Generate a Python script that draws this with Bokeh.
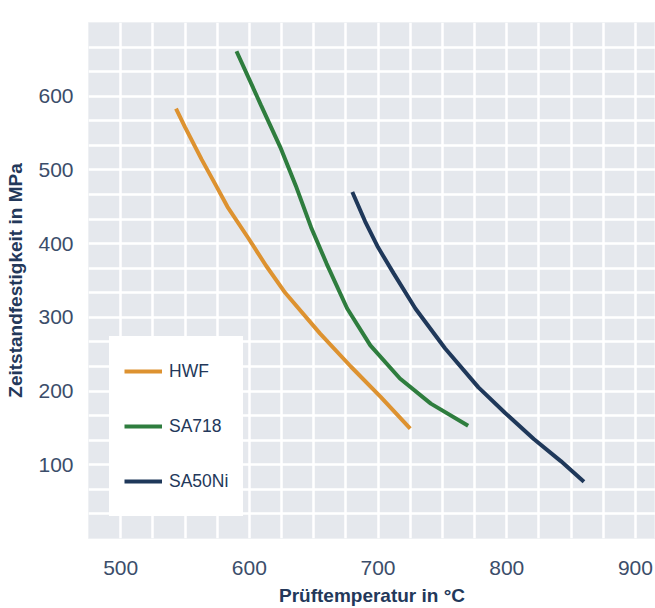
from bokeh.plotting import figure
from bokeh.models import FixedTicker, Legend, LegendItem, Range1d
from bokeh.embed import file_html
from bokeh.resources import INLINE

# ---- data ----
hwf_t = [543, 550, 563, 574, 583, 599, 613, 628, 655, 679, 702, 725]
hwf_s = [583, 558, 514, 479, 450, 408, 370, 333, 278, 233, 192, 149]

sa718_t = [590, 609, 624, 636, 648, 660, 676, 694, 717, 741, 770]
sa718_s = [661, 588, 531, 479, 422, 373, 312, 262, 217, 183, 153]

sa50ni_t = [680, 690, 700, 712, 729, 752, 778, 799, 821, 842, 860]
sa50ni_s = [470, 430, 395, 360, 312, 258, 205, 170, 135, 105, 77]

x_ticks = [500, 600, 700, 800, 900]
y_ticks = [100, 200, 300, 400, 500, 600]
x_grid = [475 + 25 * i for i in range(19)]
y_grid = [100 * i / 3 for i in range(22)]

series_names = ["HWF", "SA718", "SA50Ni"]
colors = ["#dd9230", "#2e7d3e", "#1f385a"]

navy = "#23385a"
tick_col = "#3b4d6a"

p = figure(width=655, height=608, output_backend="svg", toolbar_location=None,
           x_range=Range1d(475, 915.6), y_range=Range1d(0, 700),
           min_border_left=88, min_border_right=0, min_border_top=22,
           min_border_bottom=70)

p.background_fill_color = "#e5e8ed"
p.border_fill_color = "white"
p.outline_line_color = "#eef0f3"
p.outline_line_width = 1

p.xgrid.ticker = FixedTicker(ticks=x_grid)
p.ygrid.ticker = FixedTicker(ticks=y_grid)
for g in (p.xgrid, p.ygrid):
    g.grid_line_color = "white"
    g.grid_line_width = 2.5
    g.grid_line_alpha = 1

p.xaxis.ticker = FixedTicker(ticks=x_ticks)
p.yaxis.ticker = FixedTicker(ticks=y_ticks)

for ax in (p.xaxis, p.yaxis):
    ax.axis_line_color = None
    ax.major_tick_line_color = None
    ax.minor_tick_line_color = None
    ax.major_tick_out = 0
    ax.major_tick_in = 0
    ax.major_label_text_font = "Liberation Sans"
    ax.major_label_text_font_size = "21px"
    ax.major_label_text_color = tick_col
    ax.axis_label_text_font = "Liberation Sans"
    ax.axis_label_text_font_style = "bold"
    ax.axis_label_text_font_size = "19px"
    ax.axis_label_text_color = navy

p.xaxis.axis_label = "Prüftemperatur in °C"
p.yaxis.axis_label = "Zeitstandfestigkeit in MPa"
p.xaxis.major_label_standoff = 22
p.xaxis.axis_label_standoff = 7
p.yaxis.major_label_standoff = 15
p.yaxis.axis_label_standoff = 9

r1 = p.line(hwf_t, hwf_s, line_color=colors[0], line_width=4)
r2 = p.line(sa718_t, sa718_s, line_color=colors[1], line_width=4)
r3 = p.line(sa50ni_t, sa50ni_s, line_color=colors[2], line_width=4)

legend = Legend(items=[LegendItem(label=series_names[0], renderers=[r1]),
                       LegendItem(label=series_names[1], renderers=[r2]),
                       LegendItem(label=series_names[2], renderers=[r3])],
                location=(21, 22))
legend.background_fill_color = "white"
legend.background_fill_alpha = 1
legend.border_line_alpha = 0
legend.padding = 15
legend.margin = 0
legend.spacing = 15
legend.glyph_width = 38
legend.glyph_height = 40
legend.label_height = 40
legend.label_standoff = 7
legend.label_text_font = "Liberation Sans"
legend.label_text_font_size = "17.5px"
legend.label_text_color = navy
p.add_layout(legend, "center")

open("out.html", "w").write(file_html(p, INLINE))
